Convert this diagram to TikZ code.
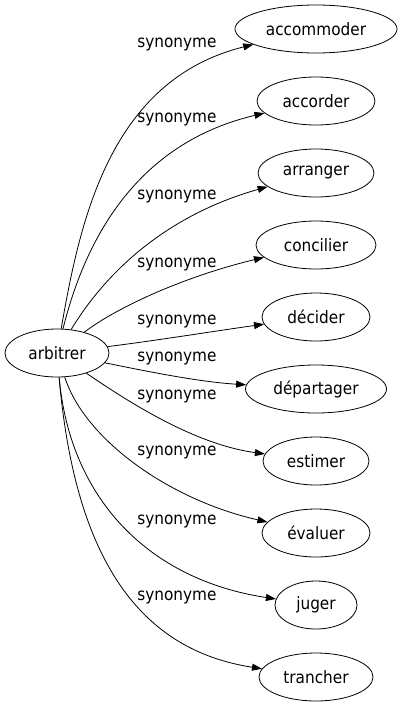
\documentclass[tikz,border=0pt]{standalone}
\usepackage{fontspec}
\setmainfont{DejaVu Sans Condensed}
\usetikzlibrary{shapes.geometric, arrows.meta, positioning}
\tikzset{
    word/.style={ellipse, draw, line width=0.8pt, inner sep=0pt,
                 minimum height=48pt, font=\fontsize{17}{20}\selectfont},
    syn/.style={font=\fontsize{17}{20}\selectfont, inner sep=0pt},
    rel/.style={line width=0.8pt, -{Triangle[length=10pt,width=7pt]}}
}
\begin{document}
\begin{tikzpicture}[x=1pt, y=-1pt]
    \useasboundingbox (0,0) rectangle (403,707);

    % Source word
    \node[word, minimum width=104pt] (arbitrer) at (57,353) {arbitrer};

    % Synonyms
    \node[word, minimum width=162pt] (accommoder) at (316,29) {accommoder};
    \node[word, minimum width=118pt] (accorder) at (316,101) {accorder};
    \node[word, minimum width=116pt] (arranger) at (316,173) {arranger};
    \node[word, minimum width=120pt] (concilier) at (316,245) {concilier};
    \node[word, minimum width=108pt] (decider) at (316,317) {décider};
    \node[word, minimum width=141pt] (departager) at (316,389) {départager};
    \node[word, minimum width=106pt] (estimer) at (316,461) {estimer};
    \node[word, minimum width=108pt] (evaluer) at (316,533) {évaluer};
    \node[word, minimum width=82pt] (juger) at (316,605) {juger};
    \node[word, minimum width=114pt] (trancher) at (316,677) {trancher};

    % Edges
    \draw[rel] (arbitrer) .. controls (80,220) and (110,80) .. (accommoder);
    \draw[rel] (arbitrer) .. controls (90,220) and (150,140) .. (accorder);
    \draw[rel] (arbitrer) .. controls (95,290) and (150,220) .. (arranger);
    \draw[rel] (arbitrer) .. controls (120,305) and (190,275) .. (concilier);
    \draw[rel] (arbitrer) .. controls (160,340) and (215,331) .. (decider);
    \draw[rel] (arbitrer) .. controls (150,372) and (200,382) .. (departager);
    \draw[rel] (arbitrer) .. controls (140,410) and (200,445) .. (estimer);
    \draw[rel] (arbitrer) .. controls (85,440) and (170,500) .. (evaluer);
    \draw[rel] (arbitrer) .. controls (70,500) and (150,580) .. (juger);
    \draw[rel] (arbitrer) .. controls (75,560) and (140,650) .. (trancher);

    % Edge labels
    \node[syn] (l1) at (177,45) {synonyme};
    \node[syn] (l2) at (177,120) {synonyme};
    \node[syn] (l3) at (177,197) {synonyme};
    \node[syn] (l4) at (177,265) {synonyme};
    \node[syn] (l5) at (177,322) {synonyme};
    \node[syn] (l6) at (177,359) {synonyme};
    \node[syn] (l7) at (177,397) {synonyme};
    \node[syn] (l8) at (177,453) {synonyme};
    \node[syn] (l9) at (177,522) {synonyme};
    \node[syn] (l10) at (177,597) {synonyme};
\end{tikzpicture}
\end{document}
